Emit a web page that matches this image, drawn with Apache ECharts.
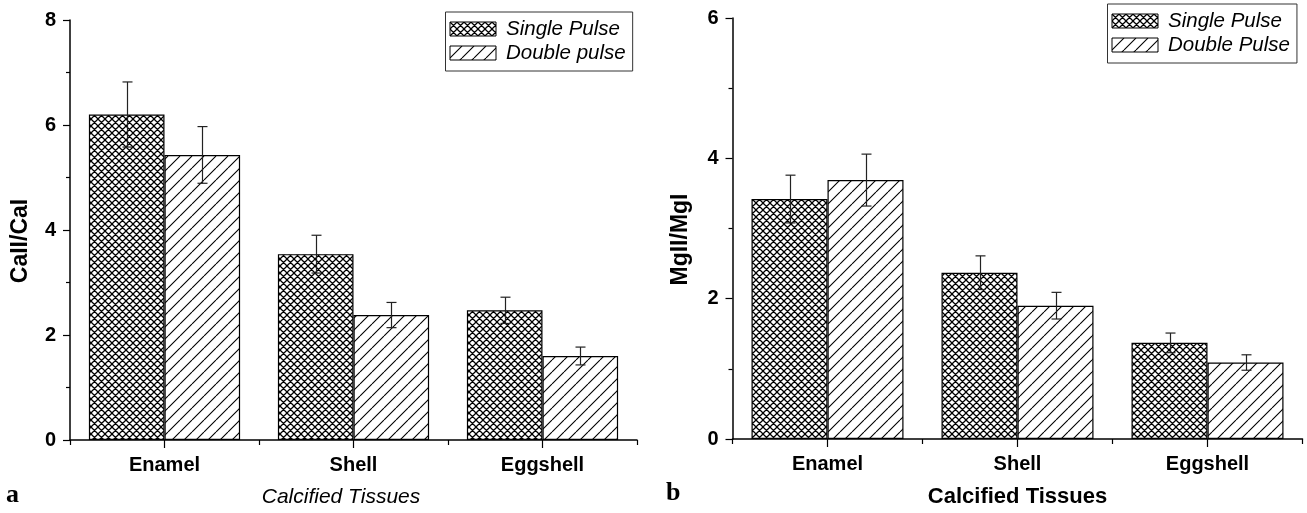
<!DOCTYPE html>
<html>
<head>
<meta charset="utf-8">
<script src="https://cdn.jsdelivr.net/npm/echarts@6/dist/echarts.min.js"></script>
<style>
html,body{margin:0;padding:0;background:#fff;}
#chart{width:1307px;height:513px;}
</style>
</head>
<body>
<div id="chart"></div>
<script>
// ---------- data ----------
const categories = ['Enamel', 'Shell', 'Eggshell'];
const caSingle    = [6.20, 3.54, 2.47];
const caSingleErr = [0.62, 0.36, 0.25];
const caDouble    = [5.43, 2.38, 1.60];
const caDoubleErr = [0.54, 0.24, 0.17];
const mgSingle    = [3.42, 2.37, 1.37];
const mgSingleErr = [0.34, 0.24, 0.14];
const mgDouble    = [3.69, 1.90, 1.09];
const mgDoubleErr = [0.37, 0.19, 0.11];
const caAxis = {min: 0, max: 8, interval: 2};
const mgAxis = {min: 0, max: 6, interval: 2};

// ---------- patterns ----------
function makeTile(size, kind, lw) {
  const c = document.createElement('canvas');
  c.width = size; c.height = size;
  const g = c.getContext('2d');
  g.fillStyle = '#fff'; g.fillRect(0, 0, size, size);
  g.strokeStyle = '#000'; g.lineWidth = lw;
  g.beginPath();
  for (const x0 of [-size, 0, size]) {
    g.moveTo(x0, size); g.lineTo(x0 + size, 0);
    if (kind === 'cross') { g.moveTo(x0, 0); g.lineTo(x0 + size, size); }
  }
  g.stroke();
  return c;
}
const crossPat = {image: makeTile(7, 'cross', 1.25), repeat: 'repeat'};
const diagPat  = {image: makeTile(12, 'diag', 1.1), repeat: 'repeat'};

const SANS = 'Liberation Sans';

function errData(vals, errs) {
  return vals.map((v, i) => [i, v - errs[i], v + errs[i]]);
}
function errRender(sign) {
  return function (params, api) {
    const x = api.value(0);
    const lo = api.coord([x, api.value(1)]);
    const hi = api.coord([x, api.value(2)]);
    const band = api.size([1, 0])[0];
    const cx = Math.round(lo[0] + sign * band * 0.2) + 0.5;
    const cap = 5;
    const st = {stroke: '#222', lineWidth: 1.2};
    return {
      type: 'group',
      children: [
        {type: 'line', shape: {x1: cx, y1: hi[1], x2: cx, y2: lo[1]}, style: st},
        {type: 'line', shape: {x1: cx - cap, y1: hi[1], x2: cx + cap, y2: hi[1]}, style: st},
        {type: 'line', shape: {x1: cx - cap, y1: lo[1], x2: cx + cap, y2: lo[1]}, style: st}
      ]
    };
  };
}

function catAxes(gridIndex, titleStyle, titlePad) {
  return [
    {
      type: 'category', gridIndex: gridIndex, data: categories, position: 'bottom',
      axisLine: {lineStyle: {color: '#000', width: 1.5}},
      axisTick: {show: true, length: 5, lineStyle: {color: '#000', width: 1.2}},
      axisLabel: {color: '#000', fontFamily: SANS, fontWeight: 'bold', fontSize: 20, margin: 15},
      name: 'Calcified Tissues', nameLocation: 'middle', nameGap: 47,
      nameTextStyle: Object.assign({color: '#000', fontFamily: SANS, padding: titlePad}, titleStyle)
    },
    {
      type: 'category', gridIndex: gridIndex, data: categories, position: 'bottom',
      axisLine: {show: false},
      axisTick: {show: true, alignWithLabel: true, length: 8, lineStyle: {color: '#000', width: 1.2}},
      axisLabel: {show: false}
    }
  ];
}
function valAxis(gridIndex, cfg, name, nameGap) {
  return {
    type: 'value', gridIndex: gridIndex, min: cfg.min, max: cfg.max, interval: cfg.interval,
    splitLine: {show: false},
    axisLine: {show: true, lineStyle: {color: '#000', width: 1.5}},
    axisTick: {show: true, length: 7, lineStyle: {color: '#000', width: 1.2}},
    minorTick: {show: true, splitNumber: 2, length: 4, lineStyle: {color: '#000', width: 1.2}},
    axisLabel: {color: '#000', fontFamily: SANS, fontWeight: 'bold', fontSize: 20, margin: 14},
    name: name, nameLocation: 'middle', nameRotate: 90, nameGap: nameGap,
    nameTextStyle: {color: '#000', fontFamily: SANS, fontWeight: 'bold', fontSize: 23, padding: [0, 22, 0, 0]}
  };
}
function legendCfg(left, top, names) {
  return {
    orient: 'vertical', left: left, top: top, data: names,
    icon: 'rect', itemWidth: 46, itemHeight: 14, itemGap: 2,
    padding: [6, 7, 7, 4],
    borderColor: '#333', borderWidth: 1, backgroundColor: '#fff',
    itemStyle: {borderColor: '#000', borderWidth: 1},
    textStyle: {color: '#000', fontFamily: SANS, fontStyle: 'italic', fontSize: 20.5, lineHeight: 22, padding: [0, 0, 0, 5]},
    selectedMode: false
  };
}
const barCommon = {type: 'bar', barGap: '0%', barCategoryGap: '20%'};

const option = {
  animation: false,
  backgroundColor: '#fff',
  grid: [
    {left: 70, top: 20, width: 567, height: 420},
    {left: 732.5, top: 18, width: 570, height: 422}
  ],
  xAxis: catAxes(0, {fontStyle: 'italic', fontSize: 21}, [0, 25, 0, 0])
    .concat(catAxes(1, {fontWeight: 'bold', fontSize: 22}, [0, 0, 0, 0])),
  yAxis: [valAxis(0, caAxis, 'CaII/CaI', 38), valAxis(1, mgAxis, 'MgII/MgI', 40)],
  legend: [
    legendCfg(445.5, 12, ['Single Pulse', 'Double pulse']),
    legendCfg(1107.5, 4, ['Single Pulse', 'Double Pulse'])
  ],
  series: [
    Object.assign({}, barCommon, {name: 'Single Pulse', xAxisIndex: 0, yAxisIndex: 0, data: caSingle,
      itemStyle: {color: crossPat, borderColor: '#000', borderWidth: 1.2}}),
    Object.assign({}, barCommon, {name: 'Double pulse', xAxisIndex: 0, yAxisIndex: 0, data: caDouble,
      itemStyle: {color: diagPat, borderColor: '#000', borderWidth: 1.2}}),
    Object.assign({}, barCommon, {name: 'Single Pulse', xAxisIndex: 2, yAxisIndex: 1, data: mgSingle,
      itemStyle: {color: crossPat, borderColor: '#000', borderWidth: 1.2}}),
    Object.assign({}, barCommon, {name: 'Double Pulse', xAxisIndex: 2, yAxisIndex: 1, data: mgDouble,
      itemStyle: {color: diagPat, borderColor: '#000', borderWidth: 1.2}}),
    {type: 'custom', name: 'err1', xAxisIndex: 0, yAxisIndex: 0, z: 10, renderItem: errRender(-1),
      data: errData(caSingle, caSingleErr), encode: {x: 0, y: [1, 2]}},
    {type: 'custom', name: 'err2', xAxisIndex: 0, yAxisIndex: 0, z: 10, renderItem: errRender(1),
      data: errData(caDouble, caDoubleErr), encode: {x: 0, y: [1, 2]}},
    {type: 'custom', name: 'err3', xAxisIndex: 2, yAxisIndex: 1, z: 10, renderItem: errRender(-1),
      data: errData(mgSingle, mgSingleErr), encode: {x: 0, y: [1, 2]}},
    {type: 'custom', name: 'err4', xAxisIndex: 2, yAxisIndex: 1, z: 10, renderItem: errRender(1),
      data: errData(mgDouble, mgDoubleErr), encode: {x: 0, y: [1, 2]}}
  ],
  graphic: [
    {type: 'text', left: 6, top: 482, style: {text: 'a', fill: '#000', font: 'bold 26px "Liberation Serif"'}},
    {type: 'text', left: 666, top: 480, style: {text: 'b', fill: '#000', font: 'bold 26px "Liberation Serif"'}}
  ]
};

const chart = echarts.init(document.getElementById('chart'), null, {renderer: 'canvas'});
chart.setOption(option);
</script>
</body>
</html>
